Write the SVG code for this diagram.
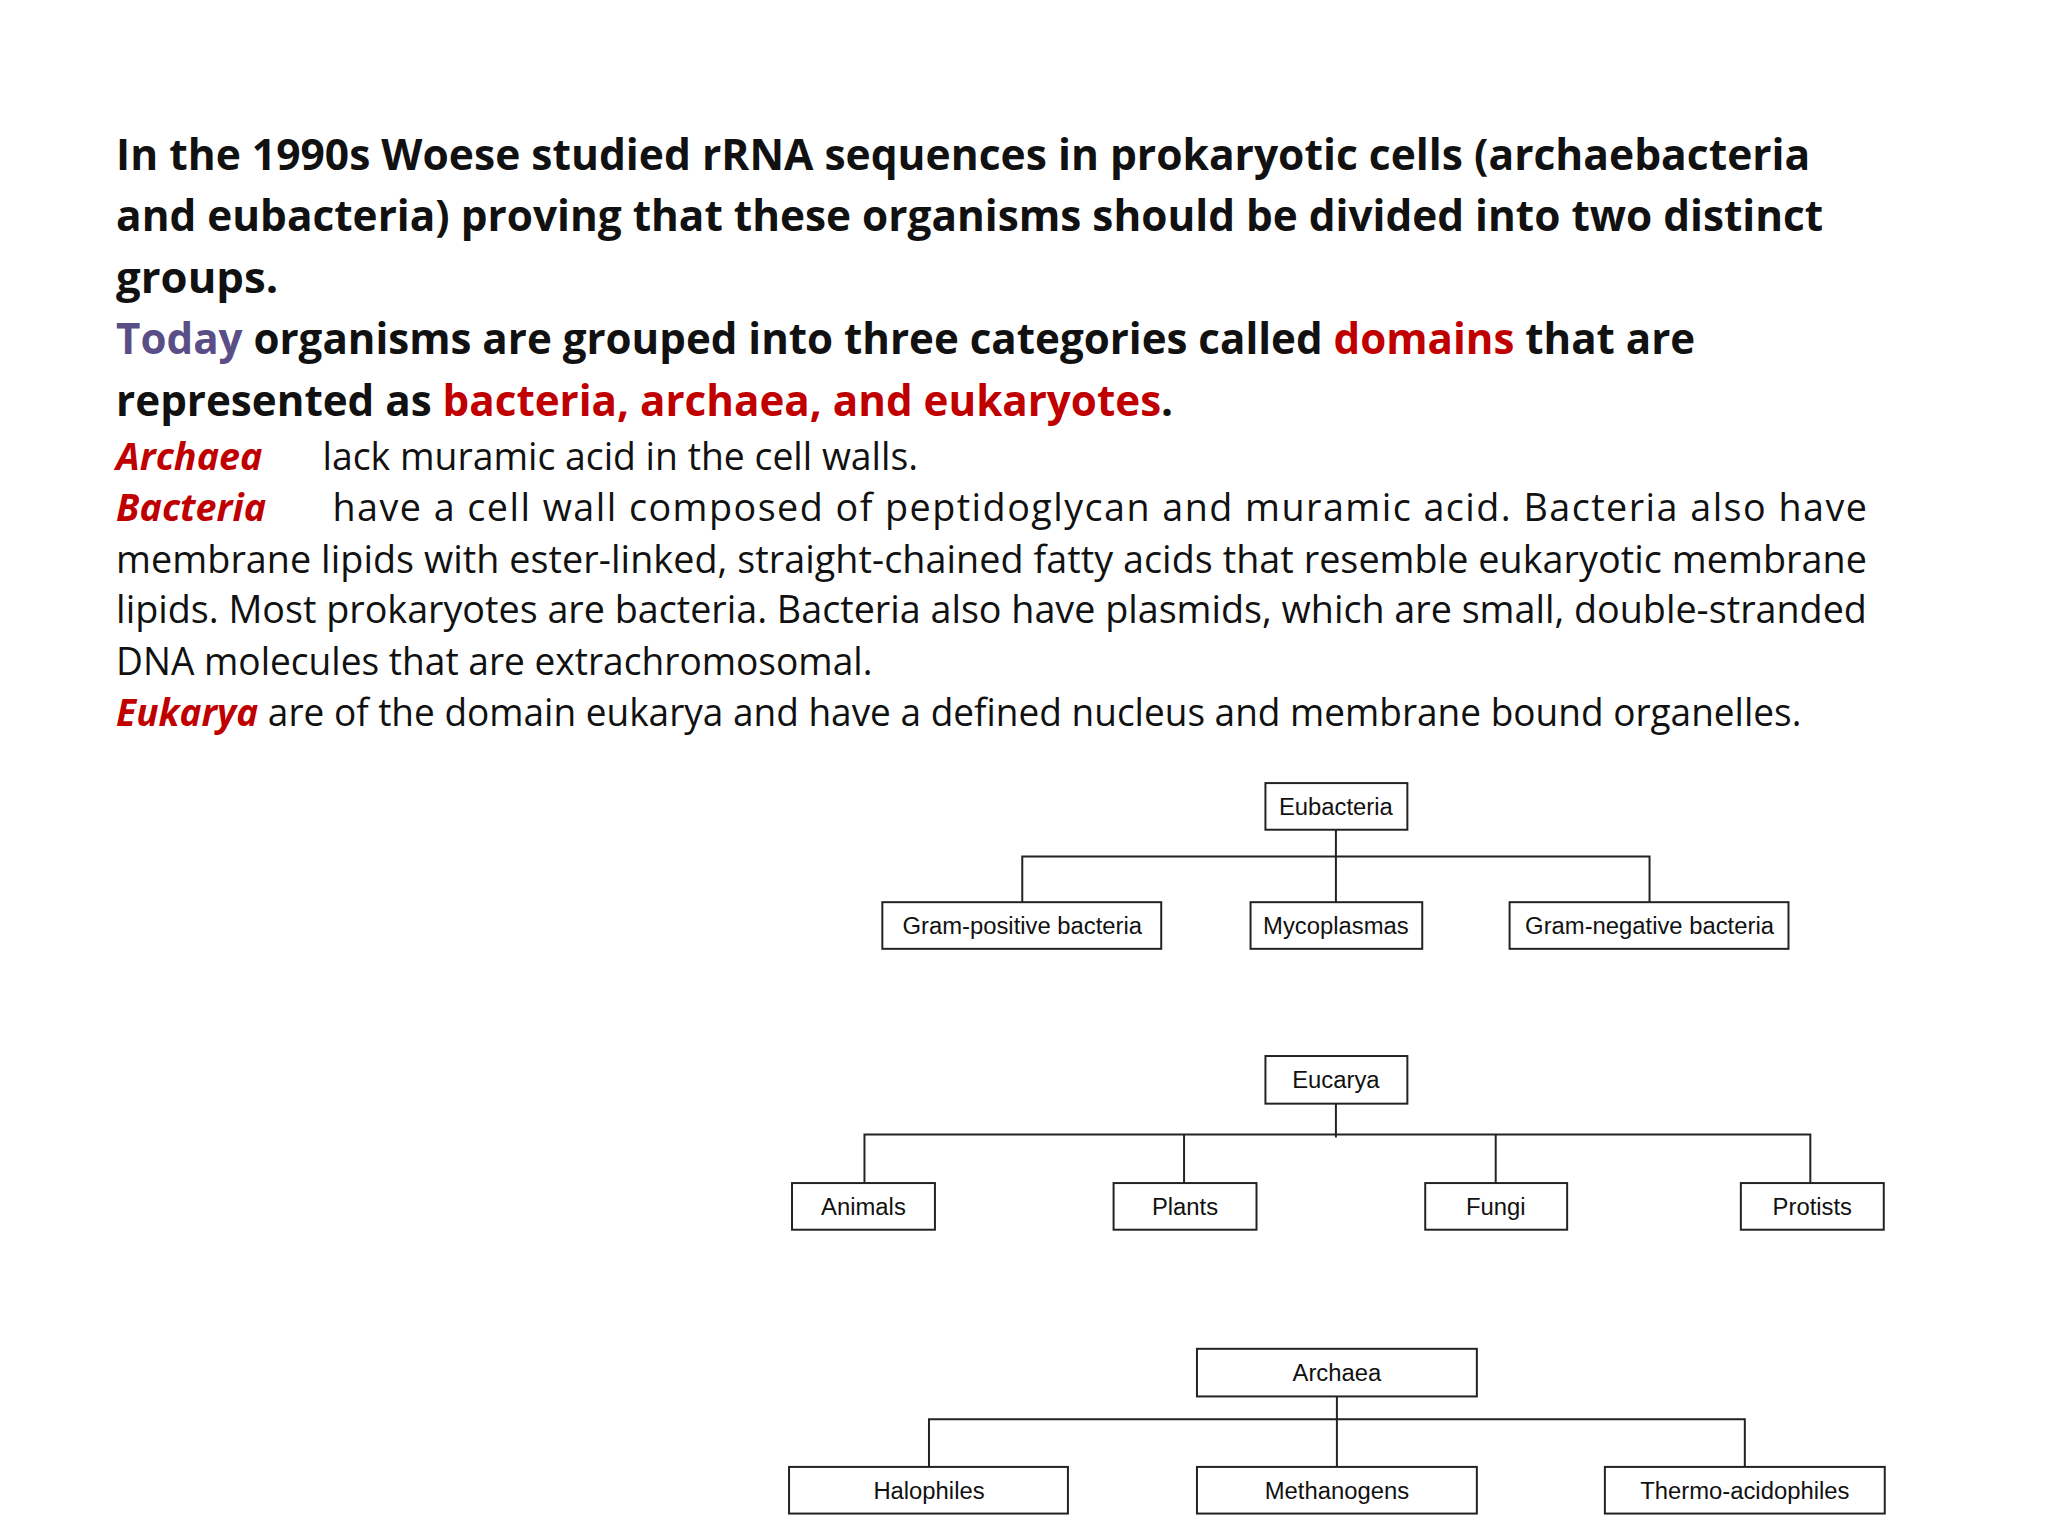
<svg xmlns="http://www.w3.org/2000/svg" width="2048" height="1536" viewBox="0 0 2048 1536">
<style>
.h{font-family:"Open Sans","Liberation Sans",sans-serif;font-weight:bold;font-size:44px;fill:#111}
.b{font-family:"Open Sans","Liberation Sans",sans-serif;font-size:38px;fill:#111}
.r{fill:#c00000}
.ri{fill:#c00000;font-weight:bold;font-style:italic}
.bx rect{fill:#fff;stroke:#222;stroke-width:2}
.bx text{font-family:"Liberation Sans",Arial,sans-serif;font-size:24px;fill:#111;text-anchor:middle}
.c{stroke:#222;stroke-width:2;fill:none}
</style>
<rect width="2048" height="1536" fill="#fff"/>
<g transform="scale(0.9925)">
<text class="h" x="117" y="171" textLength="1707" lengthAdjust="spacingAndGlyphs">In the 1990s Woese studied rRNA sequences in prokaryotic cells (archaebacteria</text>
<text class="h" x="117" y="233" textLength="1720" lengthAdjust="spacingAndGlyphs">and eubacteria) proving that these organisms should be divided into two distinct</text>
<text class="h" x="117" y="295">groups.</text>
<text class="h" x="117" y="357" textLength="1591" lengthAdjust="spacingAndGlyphs"><tspan fill="#5a4e86">Today</tspan> organisms are grouped into three categories called <tspan class="r">domains</tspan> that are</text>
<text class="h" x="117" y="419" textLength="1065" lengthAdjust="spacingAndGlyphs">represented as <tspan class="r">bacteria, archaea, and eukaryotes</tspan>.</text>
<text class="b ri" x="117" y="474">Archaea</text>
<text class="b" x="325" y="474" textLength="600" lengthAdjust="spacingAndGlyphs">lack muramic acid in the cell walls.</text>
<text class="b ri" x="117" y="525">Bacteria</text>
<text class="b" x="335" y="525" textLength="1546" lengthAdjust="spacing">have a cell wall composed of peptidoglycan and muramic acid. Bacteria also have</text>
<text class="b" x="117" y="577" textLength="1764" lengthAdjust="spacing">membrane lipids with ester-linked, straight-chained fatty acids that resemble eukaryotic membrane</text>
<text class="b" x="117" y="628" textLength="1764" lengthAdjust="spacing">lipids. Most prokaryotes are bacteria. Bacteria also have plasmids, which are small, double-stranded</text>
<text class="b" x="117" y="680" textLength="762" lengthAdjust="spacingAndGlyphs">DNA molecules that are extrachromosomal.</text>
<text class="b" x="117" y="731" textLength="1698" lengthAdjust="spacingAndGlyphs"><tspan class="ri">Eukarya</tspan> are of the domain eukarya and have a defined nucleus and membrane bound organelles.</text>
<g id="connectors">
<path class="c" d="M1346 836V909M1030 909V863H1662V909"/>
<path class="c" d="M1346 1112V1146M871 1192V1143H1824V1192M1193 1143V1192M1507 1143V1192"/>
<path class="c" d="M1347 1407V1478M936 1478V1430H1758V1478"/>
</g>
<g id="eubacteria" class="bx"><rect x="1275" y="789" width="143" height="47"/><text x="1346" y="821">Eubacteria</text></g>
<g id="grampos" class="bx"><rect x="889" y="909" width="281" height="47"/><text x="1030" y="941">Gram-positive bacteria</text></g>
<g id="myco" class="bx"><rect x="1260" y="909" width="173" height="47"/><text x="1346" y="941">Mycoplasmas</text></g>
<g id="gramneg" class="bx"><rect x="1521" y="909" width="281" height="47"/><text x="1662" y="941">Gram-negative bacteria</text></g>
<g id="eucarya" class="bx"><rect x="1275" y="1064" width="143" height="48"/><text x="1346" y="1096">Eucarya</text></g>
<g id="animals" class="bx"><rect x="798" y="1192" width="144" height="47"/><text x="870" y="1224">Animals</text></g>
<g id="plants" class="bx"><rect x="1122" y="1192" width="144" height="47"/><text x="1194" y="1224">Plants</text></g>
<g id="fungi" class="bx"><rect x="1436" y="1192" width="143" height="47"/><text x="1507" y="1224">Fungi</text></g>
<g id="protists" class="bx"><rect x="1754" y="1192" width="144" height="47"/><text x="1826" y="1224">Protists</text></g>
<g id="archaea" class="bx"><rect x="1206" y="1359" width="282" height="48"/><text x="1347" y="1391">Archaea</text></g>
<g id="halophiles" class="bx"><rect x="795" y="1478" width="281" height="47"/><text x="936" y="1510">Halophiles</text></g>
<g id="methanogens" class="bx"><rect x="1206" y="1478" width="282" height="47"/><text x="1347" y="1510">Methanogens</text></g>
<g id="thermo" class="bx"><rect x="1617" y="1478" width="282" height="47"/><text x="1758" y="1510">Thermo-acidophiles</text></g>
</g>
</svg>
